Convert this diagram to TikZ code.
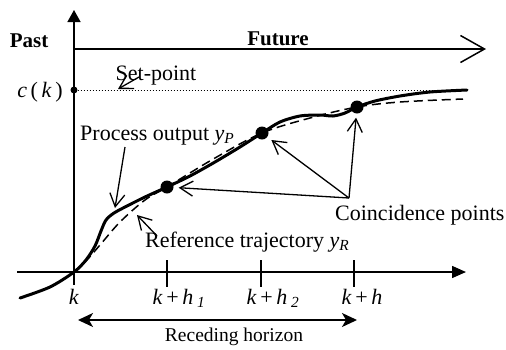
\documentclass[tikz,border=0pt]{standalone}
\usepackage{fontspec}
\setmainfont{Liberation Serif}
\usetikzlibrary{arrows.meta}
\begin{document}
\begin{tikzpicture}[x=1pt,y=-1pt,
  txt/.style={font=\fontsize{22}{24}\selectfont, inner sep=0pt, anchor=base},
  boldtxt/.style={font=\fontsize{21}{24}\selectfont\bfseries, inner sep=0pt, anchor=base},
  smalltxt/.style={font=\fontsize{19.5}{22}\selectfont, inner sep=0pt, anchor=base},
  axisline/.style={line width=1.5pt},
  callout/.style={line width=1.3pt, -{Straight Barb[length=13pt,width=15pt,line width=1.3pt]}},
  dotnode/.style={circle, fill=black, inner sep=0pt, minimum size=13pt},
  ticknode/.style={inner sep=0pt, minimum size=0pt},
  outcurve/.style={line width=3pt, line cap=round, line join=round},
  refcurve/.style={line width=1.5pt, dash pattern=on 9pt off 5pt},
]
\useasboundingbox (0,0) rectangle (506,349);

% axes
\coordinate (vb) at (74,285);
\coordinate (vt) at (74,10);
\coordinate (hl) at (17,272);
\coordinate (hr) at (466,272);
\draw[axisline, -{Triangle[length=12pt,width=13pt]}] (vb) -- (vt);
\draw[axisline, -{Triangle[length=14pt,width=12pt]}] (hl) -- (hr);

% future arrow
\coordinate (fl) at (74,49);
\coordinate (fr) at (486,49);
\draw[axisline, -{Straight Barb[length=24pt,width=27pt,line width=1.5pt]}] (fl) -- (fr);
\node[boldtxt] (past) at (29,47) {Past};
\node[boldtxt] (future) at (278,45) {Future};

% set-point
\node[circle, fill=black, inner sep=0pt, minimum size=7pt] (ck) at (74,90) {};
\coordinate (spend) at (466,90);
\draw[line width=1pt, dotted] (ck) -- (spend);
\node[txt, anchor=base east] (cklabel) at (63,97) {\textit{c}\,(\,\textit{k}\,)};
\node[txt] (setpoint) at (156,80) {Set-point};
\coordinate (spa) at (139,77);
\coordinate (spb) at (118,89);
\draw[callout] (spa) -- (spb);

% ticks
\foreach \n/\x in {t1/167,t2/261,th/354}{
  \coordinate (\n top) at (\x,260);
  \coordinate (\n bot) at (\x,287);
  \draw[line width=1.3pt] (\n top) -- (\n bot);
}
\node[txt] (k) at (74,304) {\textit{k}};
\node[txt] (kh1) at (179,304) {\textit{k}\,+\,\textit{h}\,\textsubscript{\textit{1}}};
\node[txt] (kh2) at (273,304) {\textit{k}\,+\,\textit{h}\,\textsubscript{\textit{2}}};
\node[txt] (kh) at (362,304) {\textit{k}\,+\,\textit{h}};

% receding horizon
\coordinate (rl) at (78,320);
\coordinate (rr) at (357,320);
\draw[line width=1.5pt, {Stealth[length=15pt,width=14pt,inset=4pt]}-{Stealth[length=15pt,width=14pt,inset=4pt]}] (rl) -- (rr);
\node[smalltxt] (rh) at (234,341) {Receding horizon};

% curves
\draw[refcurve] plot[smooth, tension=0.55] coordinates {
  (74,272) (86,261) (100,245) (120,222) (145,200) (167,187)
  (215,158) (262,133) (310,118) (357,107) (400,102) (463,99)};
\draw[outcurve] plot[smooth, tension=0.5] coordinates {
  (20,298) (50,287) (74,272) (86,260) (95,246) (101,231) (106,220)
  (114,213) (127,206) (145,197) (167,187) (190,176) (215,162)
  (240,147) (262,133) (280,122) (300,116) (320,115) (333,116)
  (345,113) (357,107) (375,101) (400,96) (430,92) (467,90)};

% coincidence points
\node[dotnode] (d1) at (167,187) {};
\node[dotnode] (d2) at (262,133) {};
\node[dotnode] (d3) at (357,107) {};

% labels and callouts
\node[txt, anchor=base west] (po) at (80,140) {Process output \textit{y}\textsubscript{\textit{P}}};
\coordinate (poa) at (125,147);
\coordinate (pob) at (115,208);
\draw[callout] (poa) -- (pob);

\node[txt, anchor=base west] (rt) at (145,247) {Reference trajectory \textit{y}\textsubscript{\textit{R}}};
\coordinate (rta) at (157,236);
\coordinate (rtb) at (137,215);
\draw[callout] (rta) -- (rtb);

\node[txt, anchor=base west] (cp) at (335,220) {Coincidence points};
\coordinate (cv) at (349,198);
\draw[callout, shorten >=5pt] (cv) -- (d1);
\draw[callout, shorten >=5pt] (cv) -- (d2);
\draw[callout, shorten >=4pt] (cv) -- (d3);
\end{tikzpicture}
\end{document}
